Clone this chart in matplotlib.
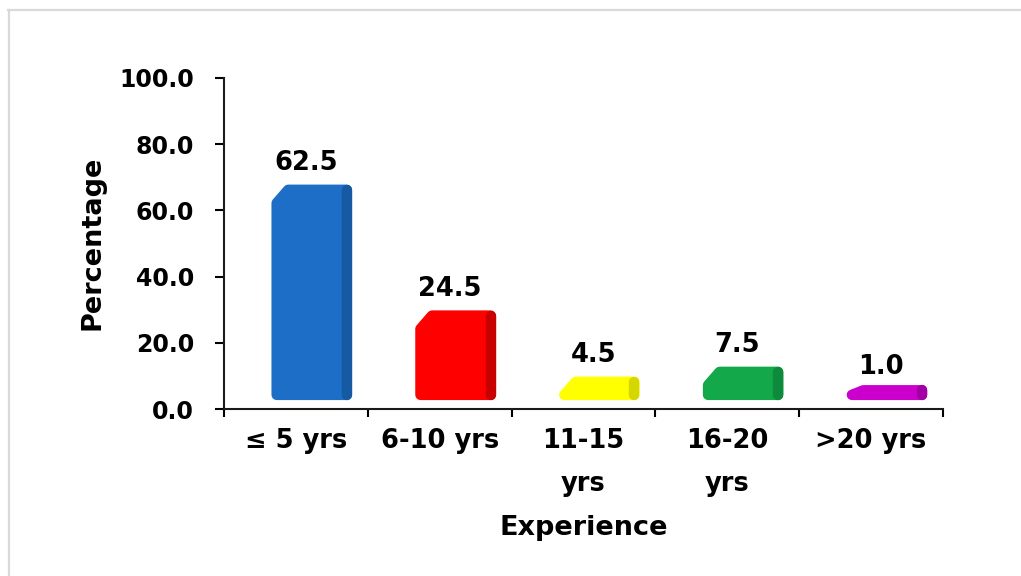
# Experience distribution bar chart (3D-look bars)
import matplotlib.pyplot as plt
from matplotlib.lines import Line2D
from matplotlib.patches import Polygon


categories = ["\u2264 5 yrs", "6-10 yrs", "11-15\nyrs", "16-20\nyrs", ">20 yrs"]
percentages = [62.5, 24.5, 4.5, 7.5, 1.0]
y_ticks = [0, 20, 40, 60, 80, 100]

face_colors = ["#1C6EC6", "#FF0000", "#FFFF00", "#13A84A", "#CC00CC"]
side_colors = ["#165AA3", "#C80000", "#D6D600", "#0E8A3C", "#A300A3"]


def main() -> None:
    plt.rcParams["font.family"] = "DejaVu Sans"
    plt.rcParams["font.weight"] = "bold"

    fig = plt.figure(figsize=(10.21, 5.76), dpi=100)
    ax = fig.add_axes([0.2194, 0.2899, 0.7042, 0.5747])

    ax.set_xlim(-0.5, len(categories) - 0.5)
    ax.set_ylim(0, 100)

    # 3D look: bars sit slightly above the floor, lean right,
    # slanted top-left edge, rounded corners from a thick round-joined edge
    px_x = 719 / 5.0
    px_y = 331 / 100.0
    shift = 0.11
    half = 0.28
    floor = 2.7
    depth = 5.3
    min_height = 15 / px_y
    edge_pt = 7.5
    radius_px = edge_pt * 100 / 72 / 2
    inset_x = radius_px / px_x
    inset_y = radius_px / px_y
    cham_x = 0.08
    cham_y = 4.0

    for i, value in enumerate(percentages):
        x0 = i + shift - half + inset_x
        x1 = i + shift + half - inset_x
        y0 = floor + inset_y
        y1 = max(value + depth, floor + min_height) - inset_y
        cy = min(cham_y, y1 - y0)

        body = Polygon(
            [(x0, y0), (x0, y1 - cy), (x0 + cham_x, y1), (x1, y1), (x1, y0)],
            closed=True, facecolor=face_colors[i], edgecolor=face_colors[i],
            linewidth=edge_pt, joinstyle="round", zorder=3,
        )
        ax.add_patch(body)

        # darker right-hand side of the bar
        ax.plot([x1, x1], [y0, y1], color=side_colors[i], linewidth=edge_pt,
                solid_capstyle="round", zorder=4)

        ax.text(
            i + 0.07, value + 11.8, f"{value:.1f}",
            ha="center", va="center", fontsize=18.5, fontweight="bold",
        )

    ax.set_xticks([i - 0.5 for i in range(len(categories) + 1)])
    ax.set_xticklabels([])
    ax.set_xticks(range(len(categories)), minor=True)
    ax.set_xticklabels(categories, minor=True, fontsize=18.5, fontweight="bold")
    for label in ax.get_xticklabels(minor=True):
        label.set_linespacing(1.85)
    ax.tick_params(axis="x", which="minor", length=0, pad=14)
    ax.tick_params(axis="x", which="major", length=6, width=1.5, direction="out")

    ax.set_yticks(y_ticks)
    ax.set_yticklabels([f"{t:.1f}" for t in y_ticks], fontsize=17, fontweight="bold")
    ax.tick_params(axis="y", length=6.5, width=1.5, direction="out", pad=15)

    for name in ["top", "right"]:
        ax.spines[name].set_visible(False)
    for name in ["left", "bottom"]:
        ax.spines[name].set_linewidth(1.5)
        ax.spines[name].set_color("#1A1A1A")

    fig.text(92 / 1021, 1 - 243 / 576, "Percentage", rotation=90,
             ha="center", va="center", fontsize=19.5, fontweight="bold")
    fig.text(584 / 1021, 1 - 528 / 576, "Experience",
             ha="center", va="center", fontsize=19.5, fontweight="bold")

    # light grey frame on the left and top edges
    fig.add_artist(Line2D([8.5 / 1021, 8.5 / 1021], [0, 1 - 10 / 576],
                          transform=fig.transFigure, color="#D9D9D9", lw=1.6))
    fig.add_artist(Line2D([8 / 1021, 1], [1 - 10 / 576, 1 - 10 / 576],
                          transform=fig.transFigure, color="#D9D9D9", lw=1.6))

    fig.savefig("out.png", dpi=100)
    plt.close(fig)


if __name__ == "__main__":
    main()
